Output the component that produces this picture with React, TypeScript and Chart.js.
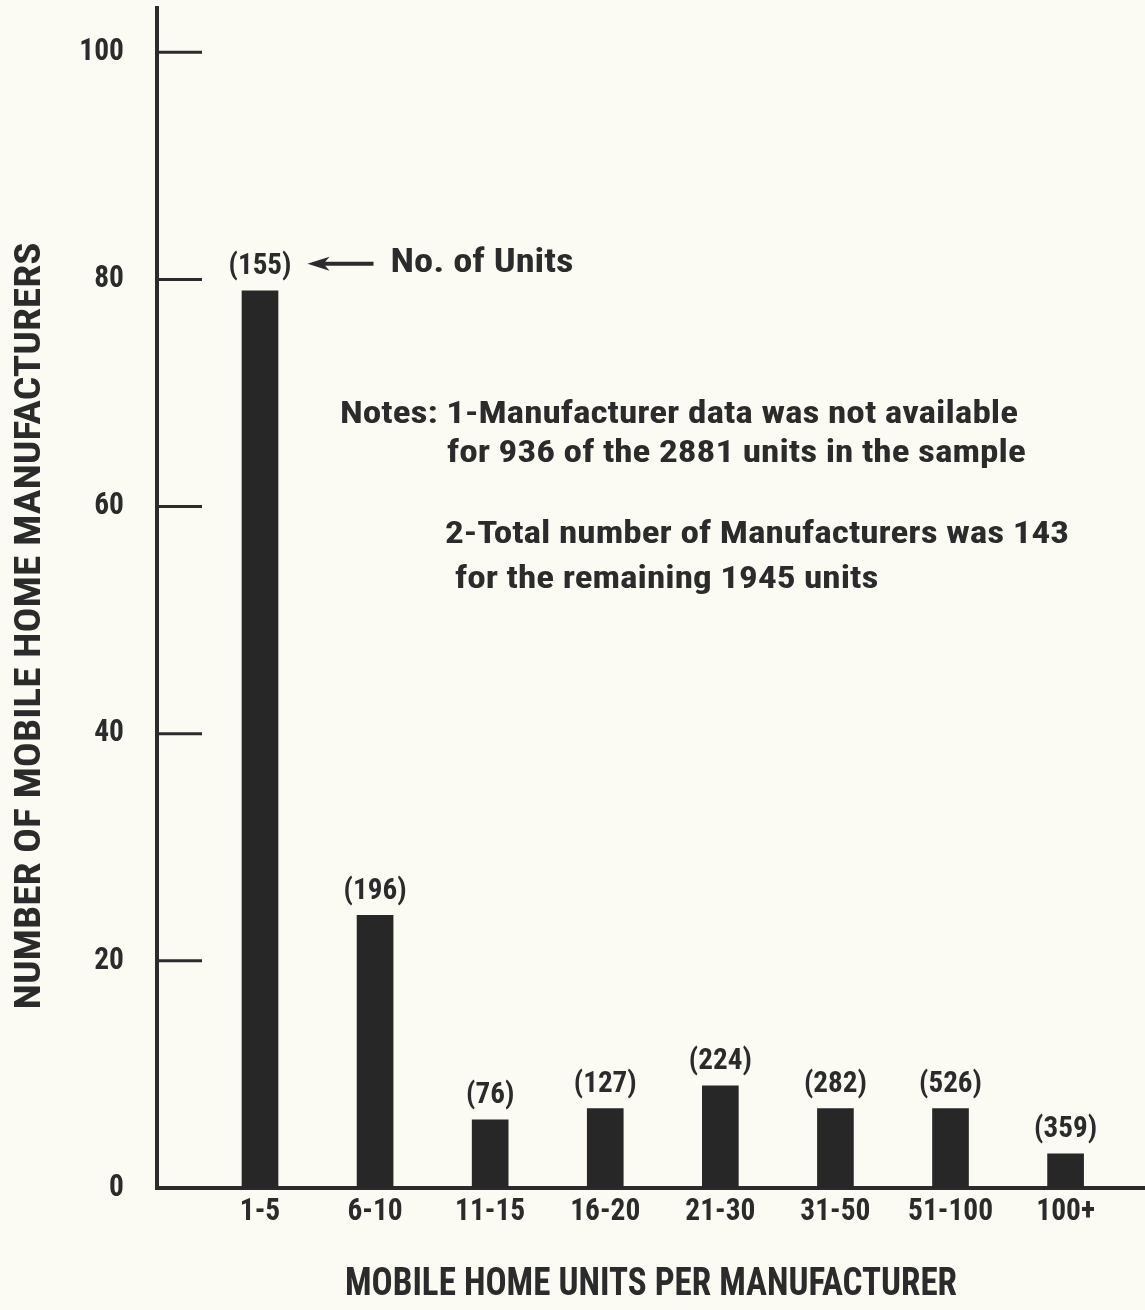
import React, { useEffect, useRef } from "react";
import { Chart, registerables } from "chart.js";

Chart.register(...registerables);

const categories = ["1-5", "6-10", "11-15", "16-20", "21-30", "31-50", "51-100", "100+"];
const manufacturers = [79, 24, 6, 7, 9, 7, 7, 3];
const unitCounts = [155, 196, 76, 127, 224, 282, 526, 359];
const yTickValues = [0, 20, 40, 60, 80, 100];
const xTitle = "MOBILE HOME UNITS PER MANUFACTURER";
const yTitle = "NUMBER OF MOBILE HOME MANUFACTURERS";
const pointerText = "No. of Units";
const noteLines = [
  "Notes: 1-Manufacturer data was not available",
  "for 936 of the 2881 units in the sample",
  "2-Total number of Manufacturers was 143",
  "for the remaining 1945 units",
];
// anchor of each note line in data units (x category index, y manufacturers)
const notePositions = [
  [0.695, 68.1],
  [1.625, 64.6],
  [1.607, 57.5],
  [1.694, 53.5],
];

const INK = "#2b2b2b";
const BAR = "#272727";
const BG = "#fbfbf4";

// font sizes (px); text is condensed/stretched to the widths seen in the reference
const TICK_SIZE = 31;
const UNIT_SIZE = 30;
const POINTER_SIZE = 32.5;
const NOTE_SIZE = 32;
const XTITLE_SIZE = 38;
const YTITLE_SIZE = 36;
const YTITLE_SHIFT = 28; // reference title sits slightly below the plot's middle

function pickFont(): string {
  const c = document.createElement("canvas").getContext("2d")!;
  const test = "No. of Units 0123456789 MOBILE";
  const candidates = ["Liberation Sans Narrow", "Roboto Condensed", "Arial Narrow", "DejaVu Sans Condensed"];
  for (const f of candidates) {
    c.font = "bold 40px monospace";
    const w0 = c.measureText(test).width;
    c.font = `bold 40px '${f}', monospace`;
    const w1 = c.measureText(test).width;
    if (Math.abs(w1 - w0) > 0.5) return f;
  }
  return "DejaVu Sans";
}

export default function App() {
  const ref = useRef<HTMLCanvasElement | null>(null);
  useEffect(() => {
    document.body.style.margin = "0";
    document.body.style.background = BG;
    const canvas = ref.current;
    if (!canvas) return;
    const family = pickFont();
    const FONT = `'${family}', 'DejaVu Sans Condensed', sans-serif`;

    const mc = document.createElement("canvas").getContext("2d")!;
    const calib = (size: number, text: string, target: number) => {
      mc.font = `bold ${size}px ${FONT}`;
      const s = target / mc.measureText(text).width;
      return Math.max(0.6, Math.min(1.3, s));
    };
    const sxBySize = new Map<number, number>();
    sxBySize.set(TICK_SIZE, calib(TICK_SIZE, "51-100", 85));
    sxBySize.set(UNIT_SIZE, calib(UNIT_SIZE, "(155)", 63));
    sxBySize.set(POINTER_SIZE, calib(POINTER_SIZE, pointerText, 183));
    sxBySize.set(NOTE_SIZE, calib(NOTE_SIZE, noteLines[0], 678));
    sxBySize.set(XTITLE_SIZE, calib(XTITLE_SIZE, xTitle, 612));
    sxBySize.set(YTITLE_SIZE, calib(YTITLE_SIZE, yTitle, 767));

    const ctx2d = canvas.getContext("2d")! as any;
    const origFill = ctx2d.fillText.bind(ctx2d);
    ctx2d.fillText = (text: string, x: number, y: number, maxWidth?: number) => {
      const m = /(\d+(?:\.\d+)?)px/.exec(ctx2d.font);
      const size = m ? parseFloat(m[1]) : 0;
      const sx = sxBySize.get(size) ?? 1;
      const dx = size === YTITLE_SIZE ? -YTITLE_SHIFT : 0;
      if (Math.abs(sx - 1) < 0.001 && dx === 0) {
        if (maxWidth === undefined) origFill(text, x, y);
        else origFill(text, x, y, maxWidth);
        return;
      }
      ctx2d.save();
      ctx2d.translate(x + dx, y);
      ctx2d.scale(sx, 1);
      origFill(text, 0, 0);
      ctx2d.restore();
    };

    const bgPlugin = {
      id: "bg",
      beforeDraw(chart: any) {
        const { ctx, width, height } = chart;
        ctx.save();
        ctx.fillStyle = BG;
        ctx.fillRect(0, 0, width, height);
        ctx.restore();
      },
    };

    const annotationPlugin = {
      id: "annotations",
      afterDraw(chart: any) {
        const { ctx, chartArea, scales } = chart;
        const x = scales.x;
        const y = scales.y;
        ctx.save();
        // inward tick marks on the y axis
        ctx.strokeStyle = INK;
        ctx.lineWidth = 3;
        yTickValues.forEach((v) => {
          if (v === 0) return;
          const py = y.getPixelForValue(v);
          ctx.beginPath();
          ctx.moveTo(chartArea.left, py);
          ctx.lineTo(chartArea.left + 45, py);
          ctx.stroke();
        });
        // unit counts above the bars
        const meta = chart.getDatasetMeta(0);
        ctx.fillStyle = INK;
        ctx.font = `bold ${UNIT_SIZE}px ${FONT}`;
        ctx.textAlign = "center";
        ctx.textBaseline = "bottom";
        let firstRight = 0;
        let firstMid = 0;
        meta.data.forEach((bar: any, i: number) => {
          const label = `(${unitCounts[i]})`;
          ctx.fillText(label, bar.x, bar.y - 9);
          if (i === 0) {
            firstRight = bar.x + (ctx.measureText(label).width * (sxBySize.get(UNIT_SIZE) ?? 1)) / 2;
            firstMid = bar.y - 27;
          }
        });
        // arrow pointing at the first label
        const tip = firstRight + 16;
        const tail = tip + 66;
        ctx.lineWidth = 4;
        ctx.beginPath();
        ctx.moveTo(tip + 10, firstMid);
        ctx.lineTo(tail, firstMid);
        ctx.stroke();
        ctx.beginPath();
        ctx.moveTo(tip, firstMid);
        ctx.lineTo(tip + 22, firstMid - 7);
        ctx.lineTo(tip + 16, firstMid);
        ctx.lineTo(tip + 22, firstMid + 7);
        ctx.closePath();
        ctx.fill();
        ctx.textAlign = "left";
        ctx.textBaseline = "middle";
        ctx.font = `bold ${POINTER_SIZE}px ${FONT}`;
        ctx.fillText(pointerText, tail + 17, firstMid);
        // notes
        ctx.font = `bold ${NOTE_SIZE}px ${FONT}`;
        noteLines.forEach((line, i) => {
          ctx.fillText(
            line,
            x.getPixelForValue(notePositions[i][0]),
            y.getPixelForValue(notePositions[i][1])
          );
        });
        ctx.restore();
      },
    };

    const chart = new Chart(canvas, {
      type: "bar",
      data: {
        datasets: [
          {
            data: manufacturers.map((v, i) => ({ x: i, y: v })),
            backgroundColor: BAR,
            borderWidth: 0,
            barThickness: 36,
          },
        ],
      },
      options: {
        animation: false,
        responsive: false,
        maintainAspectRatio: false,
        layout: { padding: { top: 8, left: 0, right: 0, bottom: 0 } },
        plugins: { legend: { display: false }, tooltip: { enabled: false } },
        scales: {
          x: {
            type: "linear",
            offset: false,
            min: -0.895,
            max: 7.69,
            afterBuildTicks: (scale: any) => {
              scale.ticks = categories.map((_, i) => ({ value: i }));
            },
            afterFit: (scale: any) => {
              scale.height = 122;
              scale.paddingLeft = 0;
              scale.paddingRight = 0;
            },
            grid: { display: true, drawOnChartArea: false, drawTicks: false, offset: false },
            border: { display: true, color: INK, width: 4 },
            ticks: {
              autoSkip: false,
              maxRotation: 0,
              padding: 6,
              color: INK,
              font: { family: FONT, size: TICK_SIZE, weight: "bold" },
              callback: (v: any) => categories[v] ?? "",
            },
            title: {
              display: true,
              text: xTitle,
              color: INK,
              font: { family: FONT, size: XTITLE_SIZE, weight: "bold" },
              padding: { top: 0, bottom: 2 },
            },
          },
          y: {
            min: 0,
            max: 103.9,
            afterBuildTicks: (scale: any) => {
              scale.ticks = yTickValues.map((v) => ({ value: v }));
            },
            afterFit: (scale: any) => {
              scale.width = 157;
              scale.paddingTop = 0;
              scale.paddingBottom = 0;
            },
            grid: { display: true, drawOnChartArea: false, drawTicks: false },
            border: { display: true, color: INK, width: 4 },
            ticks: {
              padding: 33,
              color: INK,
              font: { family: FONT, size: TICK_SIZE, weight: "bold" },
            },
            title: {
              display: true,
              text: yTitle,
              color: INK,
              font: { family: FONT, size: YTITLE_SIZE, weight: "bold" },
              padding: { top: 9, bottom: 0 },
            },
          },
        },
      },
      plugins: [bgPlugin, annotationPlugin],
    });
    return () => {
      chart.destroy();
      ctx2d.fillText = origFill;
    };
  }, []);
  return (
    <div style={{ width: 1145, height: 1310, background: BG }}>
      <canvas ref={ref} width={1145} height={1310} style={{ display: "block" }} />
    </div>
  );
}
